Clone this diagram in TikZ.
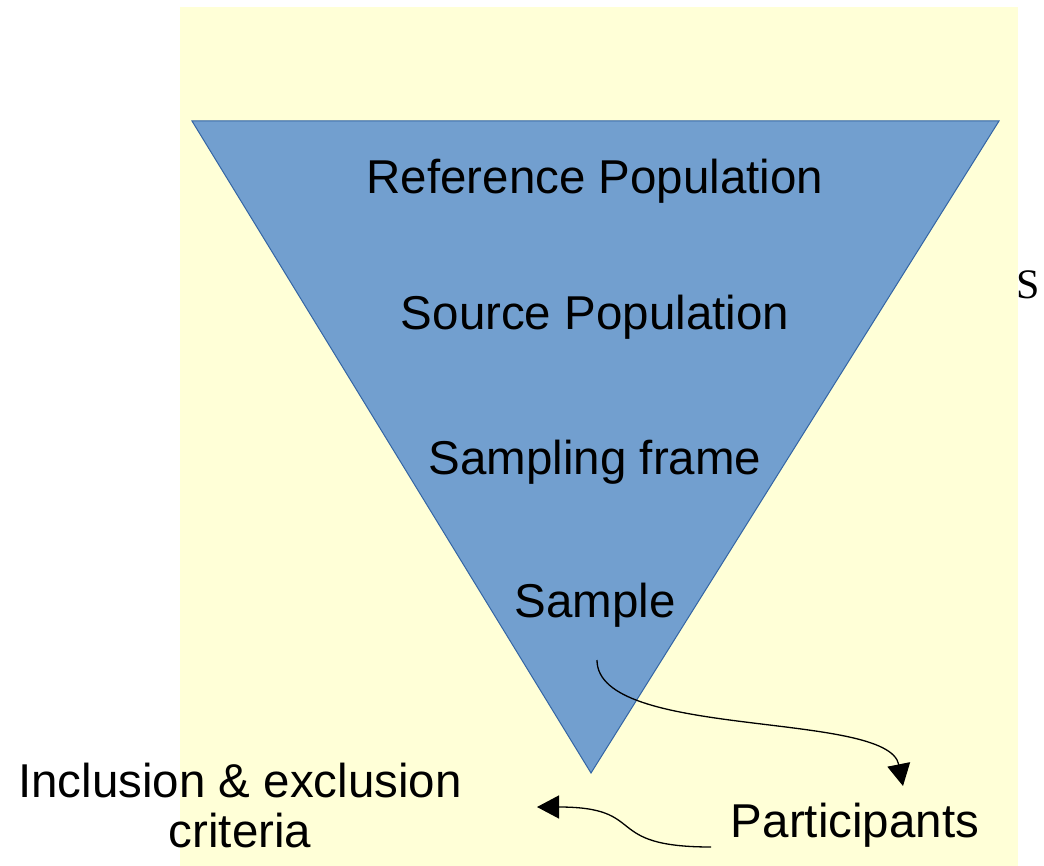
\documentclass[tikz,border=0pt]{standalone}
\usepackage{fontspec}
\setmainfont{Liberation Sans}
\newfontfamily\serifS{Liberation Serif}
\usetikzlibrary{arrows.meta}
\definecolor{bgyellow}{RGB}{255,255,215}
\definecolor{trifill}{RGB}{114,159,207}
\definecolor{triline}{RGB}{52,101,164}
\tikzset{
  lbl/.style={font=\fontsize{47.5}{50}\selectfont, inner sep=0pt, anchor=base, align=center},
  conn/.style={line width=1.3pt, -{Triangle[length=22pt,width=23pt]}}
}
\begin{document}
\begin{tikzpicture}[x=1pt,y=-1pt]
\useasboundingbox (0,0) rectangle (1044,866);
\fill[bgyellow] (180,7) rectangle (1018,866);
\filldraw[fill=trifill, draw=triline, line width=1pt] (192,121) -- (999,121) -- (591,773) -- cycle;
\node[lbl] (ref) at (595,194) {Reference Population};
\node[lbl] (src) at (595,330) {Source Population};
\node[lbl] (frame) at (595,474) {Sampling frame};
\node[lbl] (sample) at (595,617) {Sample};
\node[lbl] (incl) at (240,847) {Inclusion \& exclusion\\criteria};
\node[lbl] (part) at (855,837) {Participants};
\node[font=\serifS\fontsize{42}{42}\selectfont, inner sep=0pt, anchor=base] (s) at (1028,299) {S};
\coordinate (a1s) at (597,660);
\coordinate (a1e) at (903,786);
\coordinate (a2s) at (711,847);
\coordinate (a2e) at (537,807);
\draw[conn] (a1s) .. controls (597,740) and (888,710) .. (a1e);
\draw[conn] (a2s) .. controls (600,847) and (650,807) .. (a2e);
\end{tikzpicture}
\end{document}
